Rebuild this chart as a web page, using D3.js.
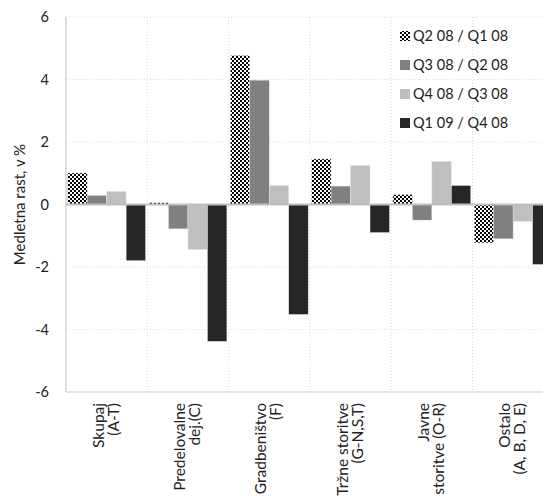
<!DOCTYPE html>
<html><head><meta charset="utf-8">
<script src="https://cdn.jsdelivr.net/npm/d3@7"></script>
<style>body{margin:0;background:#fff;}svg{display:block;font-family:Lato,"Open Sans",sans-serif;}</style>
</head><body><svg id="c" width="543" height="501"></svg>
<script>
const categories = [["Skupaj","(A-T)"],["Predelovalne","dej.(C)"],["Gradbeništvo","(F)"],["Tržne storitve","(G-N,S,T)"],["Javne","storitve (O-R)"],["Ostalo","(A, B, D, E)"]];
const seriesNames = ["Q2 08 / Q1 08","Q3 08 / Q2 08","Q4 08 / Q3 08","Q1 09 / Q4 08"];
const q2_08 = [1.01, 0.06, 4.77, 1.46, 0.32, -1.23];
const q3_08 = [0.29, -0.78, 3.98, 0.59, -0.5, -1.1];
const q4_08 = [0.42, -1.44, 0.61, 1.25, 1.38, -0.54];
const q1_09 = [-1.8, -4.38, -3.52, -0.9, 0.61, -1.92];
const yTicks = [-6,-4,-2,0,2,4,6];
const seriesValues = [q2_08, q3_08, q4_08, q1_09];
const fills = ["url(#checker)", "#808080", "#bfbfbf", "#262626"];

const svg = d3.select("#c");
const defs = svg.append("defs");
const pat = defs.append("pattern").attr("id","checker").attr("patternUnits","userSpaceOnUse")
  .attr("width",4).attr("height",4);
pat.append("rect").attr("width",4).attr("height",4).attr("fill","#fff");
pat.append("rect").attr("width",2).attr("height",2).attr("fill","#000");
pat.append("rect").attr("x",2).attr("y",2).attr("width",2).attr("height",2).attr("fill","#000");

const pLeft = 66, pTop = 17, pBottom = 392, bandW = 81.3;
const fs = 14.5;
const x0 = d3.scaleBand().domain(d3.range(categories.length)).range([pLeft, pLeft + bandW*categories.length]).padding(0);
const x1 = d3.scaleBand().domain(d3.range(seriesNames.length)).range([1.7, bandW-1.7]).padding(0);
const y = d3.scaleLinear().domain([-6,6]).range([pBottom, pTop]);

// grid
const g = svg.append("g");
g.selectAll(".hg").data(yTicks.filter(t=>t!==0 && t!==-6)).enter().append("line")
  .attr("x1",pLeft).attr("x2",543).attr("y1",d=>y(d)).attr("y2",d=>y(d))
  .attr("stroke","#dcdcdc").attr("stroke-dasharray","1,2");
g.selectAll(".vg").data(d3.range(1,categories.length)).enter().append("line")
  .attr("x1",d=>x0(d)).attr("x2",d=>x0(d)).attr("y1",pTop).attr("y2",pBottom)
  .attr("stroke","#dcdcdc").attr("stroke-dasharray","1,2");

// axes lines
svg.append("line").attr("x1",pLeft).attr("x2",pLeft).attr("y1",pTop).attr("y2",pBottom).attr("stroke","#c8c8c8").attr("stroke-width",1.2);
svg.append("line").attr("x1",pLeft).attr("x2",543).attr("y1",pBottom).attr("y2",pBottom).attr("stroke","#c8c8c8").attr("stroke-width",1.2);

// bars
seriesValues.forEach((vals, si) => {
  svg.append("g").selectAll("rect").data(vals).enter().append("rect")
    .attr("x",(d,i)=>x0(i)+x1(si))
    .attr("width",x1.bandwidth())
    .attr("y",d=>y(Math.max(0,d)))
    .attr("height",d=>Math.abs(y(d)-y(0)))
    .attr("fill",fills[si]).attr("stroke","#e6e6e6").attr("stroke-width",0.5);
});

// zero line
svg.append("line").attr("x1",pLeft).attr("x2",543).attr("y1",y(0)).attr("y2",y(0)).attr("stroke","#bfbfbf").attr("stroke-width",2);

// y axis labels
const ya = d3.axisLeft(y).tickValues(yTicks).tickSize(0).tickPadding(0).tickFormat(d3.format("d"));
const yg = svg.append("g").attr("transform","translate(49,0)").call(ya);
yg.select(".domain").remove();
yg.selectAll("text").attr("font-size",fs).attr("fill","#222").attr("font-family","Lato,sans-serif").text(d=>d<0?"-"+Math.abs(d):d);

svg.append("text").attr("transform",`translate(25,${y(0)}) rotate(-90)`).attr("text-anchor","middle")
  .attr("font-size",15).attr("fill","#222").text("Medletna rast, v %");

// x labels
categories.forEach((lines,i)=>{
  const cx = x0(i)+bandW/2;
  lines.forEach((t,li)=>{
    const lx = cx - 8 + li*15;
    svg.append("text").attr("transform",`translate(${lx+5},403) rotate(-90)`).attr("text-anchor","end")
      .attr("font-size",15.5).attr("fill","#222").text(t);
  });
});

// legend
seriesNames.forEach((n,i)=>{
  const ly = 36 + i*29;
  svg.append("rect").attr("x",400).attr("y",ly-5).attr("width",10).attr("height",10).attr("fill",fills[i]);
  svg.append("text").attr("x",413).attr("y",ly+5).attr("font-size",fs).attr("fill","#222").text(n);
});
</script></body></html>
